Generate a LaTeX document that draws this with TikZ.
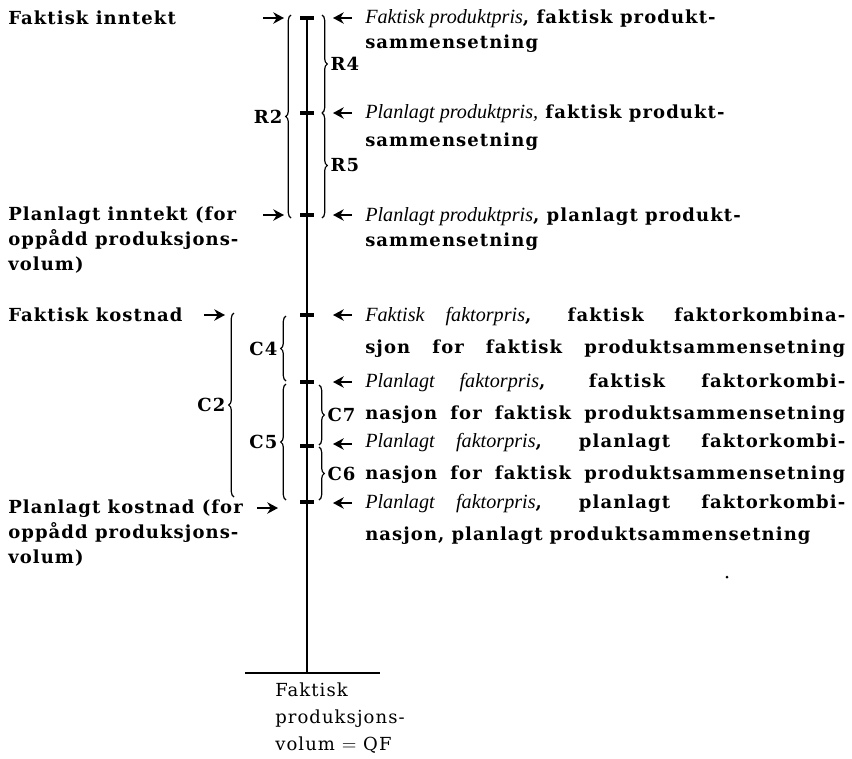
\documentclass[tikz,border=0pt]{standalone}
\usepackage{fontspec}
\setmainfont{DejaVu Serif}[LetterSpace=6]
\newfontfamily\itfont{Liberation Serif}[Scale=1.12]
\usepackage{tikz}
\usetikzlibrary{arrows.meta,decorations.pathreplacing,calc}

\newcommand{\figsize}{\fontsize{13.5}{18.4}\selectfont}
\newcommand{\ital}[1]{{\itfont\mdseries\itshape #1}}
\newcommand{\jline}[1]{\makebox[360pt][s]{#1}}

\tikzset{
  axis/.style={line width=1.9pt},
  baseline bar/.style={line width=1.5pt},
  tickbar/.style={line width=2.4pt},
  curly/.style={decorate, decoration={brace, amplitude=4pt}, line width=0.9pt},
  pointer/.style={-{Stealth[length=8pt,width=8.5pt,inset=2.5pt]}, line width=1.7pt},
  leftlabel/.style={anchor=base west, align=left, inner sep=0pt, font=\figsize\bfseries},
  rightlabel/.style={anchor=base west, align=left, inner sep=0pt, font=\figsize\bfseries},
  bracelabel/.style={inner sep=1pt, font=\figsize\bfseries}
}

\begin{document}
\begin{tikzpicture}[x=0.75pt, y=-0.75pt]
\useasboundingbox (0,0) rectangle (852,758);

% breakpoints on the volume axis
\coordinate (fi) at (307,18);
\coordinate (pp) at (307,113);
\coordinate (pi) at (307,215);
\coordinate (fk) at (307,315);
\coordinate (pf) at (307,382);
\coordinate (pk6) at (307,446);
\coordinate (pk) at (307,502);
\coordinate (qf) at (307,673);

% axis and base line
\draw[axis] (fi) -- (qf);
\draw[baseline bar] ($(qf)+(-62,0)$) -- ($(qf)+(73,0)$);

% tick marks
\draw[tickbar] ($(fi)+(-7,0)$) -- ($(fi)+(7,0)$);
\draw[tickbar] ($(pp)+(-7,0)$) -- ($(pp)+(7,0)$);
\draw[tickbar] ($(pi)+(-7,0)$) -- ($(pi)+(7,0)$);
\draw[tickbar] ($(fk)+(-7,0)$) -- ($(fk)+(7,0)$);
\draw[tickbar] ($(pf)+(-7,0)$) -- ($(pf)+(7,0)$);
\draw[tickbar] ($(pk6)+(-7,0)$) -- ($(pk6)+(7,0)$);
\draw[tickbar] ($(pk)+(-7,0)$) -- ($(pk)+(7,0)$);

% revenue braces
\draw[curly] ($(pi)+(-16,3)$) -- ($(fi)+(-16,-3)$) node[bracelabel, midway, left=5pt] (r2) {R2};
\draw[curly] ($(fi)+(15,-3)$) -- ($(pp)+(15,0)$) node[bracelabel, midway, right=5pt] (r4) {R4};
\draw[curly] ($(pp)+(15,0)$) -- ($(pi)+(15,3)$) node[bracelabel, midway, right=5pt] (r5) {R5};

% cost braces
\draw[curly] ($(pk)+(-73,-5)$) -- ($(fk)+(-73,-2)$) node[bracelabel, midway, left=5pt] (c2) {C2};
\draw[curly] ($(pf)+(-21,-1)$) -- ($(fk)+(-21,1)$) node[bracelabel, midway, left=5pt] (c4) {C4};
\draw[curly] ($(pk)+(-21,-2)$) -- ($(pf)+(-21,2)$) node[bracelabel, midway, left=5pt] (c5) {C5};
\draw[curly] ($(pf)+(12,3)$) -- ($(pk6)+(12,-1)$) node[bracelabel, midway, right=5pt] (c7) {C7};
\draw[curly] ($(pk6)+(12,1)$) -- ($(pk)+(12,-2)$) node[bracelabel, midway, right=5pt] (c6) {C6};

% left side: revenue and cost levels
\node[leftlabel] (lfi) at (8,24) {Faktisk inntekt};
\node[leftlabel] (lpi) at (8,270) {Planlagt inntekt (for\\opp\aa{}dd produksjons-\\volum)};
\node[leftlabel] (lfk) at (8,321) {Faktisk kostnad};
\node[leftlabel] (lpk) at (8,563) {Planlagt kostnad (for\\opp\aa{}dd produksjons-\\volum)};

\draw[pointer] ($(fi)+(-44,0)$) -- ($(fi)+(-23,0)$);
\draw[pointer] ($(pi)+(-44,0)$) -- ($(pi)+(-23,0)$);
\draw[pointer] ($(fk)+(-103,0)$) -- ($(fk)+(-82,0)$);
\draw[pointer] ($(pk)+(-50,6)$) -- ($(pk)+(-29,6)$);

% right side: price and mix assumptions
\draw[pointer] ($(fi)+(45,0)$) -- ($(fi)+(26,0)$);
\draw[pointer] ($(pp)+(45,0)$) -- ($(pp)+(26,0)$);
\draw[pointer] ($(pi)+(45,0)$) -- ($(pi)+(26,0)$);
\draw[pointer] ($(fk)+(45,0)$) -- ($(fk)+(26,0)$);
\draw[pointer] ($(pf)+(45,0)$) -- ($(pf)+(26,0)$);
\draw[pointer] ($(pk6)+(45,-2)$) -- ($(pk6)+(26,-2)$);
\draw[pointer] ($(pk)+(45,1)$) -- ($(pk)+(26,1)$);

\node[rightlabel] (rfi) at (365,48) {\ital{Faktisk produktpris}, faktisk produkt-\\sammensetning};
\node[rightlabel] (rpp) at (365,146) {\ital{Planlagt produktpris,} faktisk produkt-\\[2pt]sammensetning};
\node[rightlabel] (rpi) at (365,246) {\ital{Planlagt produktpris}, planlagt produkt-\\sammensetning};
\node[rightlabel] (rfk) at (365,353) {\jline{\ital{Faktisk faktorpris}, faktisk faktorkombina-}\\[5pt]\jline{sjon for faktisk produktsammensetning}};
\node[rightlabel] (rpf) at (365,419) {\jline{\ital{Planlagt faktorpris}, faktisk faktorkombi-}\\[5pt]\jline{nasjon for faktisk produktsammensetning}};
\node[rightlabel] (rpk6) at (365,479) {\jline{\ital{Planlagt faktorpris}, planlagt faktorkombi-}\\[5pt]\jline{nasjon for faktisk produktsammensetning}};
\node[rightlabel] (rpk) at (365,540) {\jline{\ital{Planlagt faktorpris}, planlagt faktorkombi-}\\[5pt]\makebox[334pt][s]{nasjon, planlagt produktsammensetning}};

\fill (727,577) circle (1.5);

% actual volume under the base line
\node[anchor=base west, align=left, inner sep=0pt, font=\fontsize{13.5}{20}\selectfont] (qflabel) at (275,750) {Faktisk\\produksjons-\\volum $=$ QF};
\end{tikzpicture}
\end{document}
